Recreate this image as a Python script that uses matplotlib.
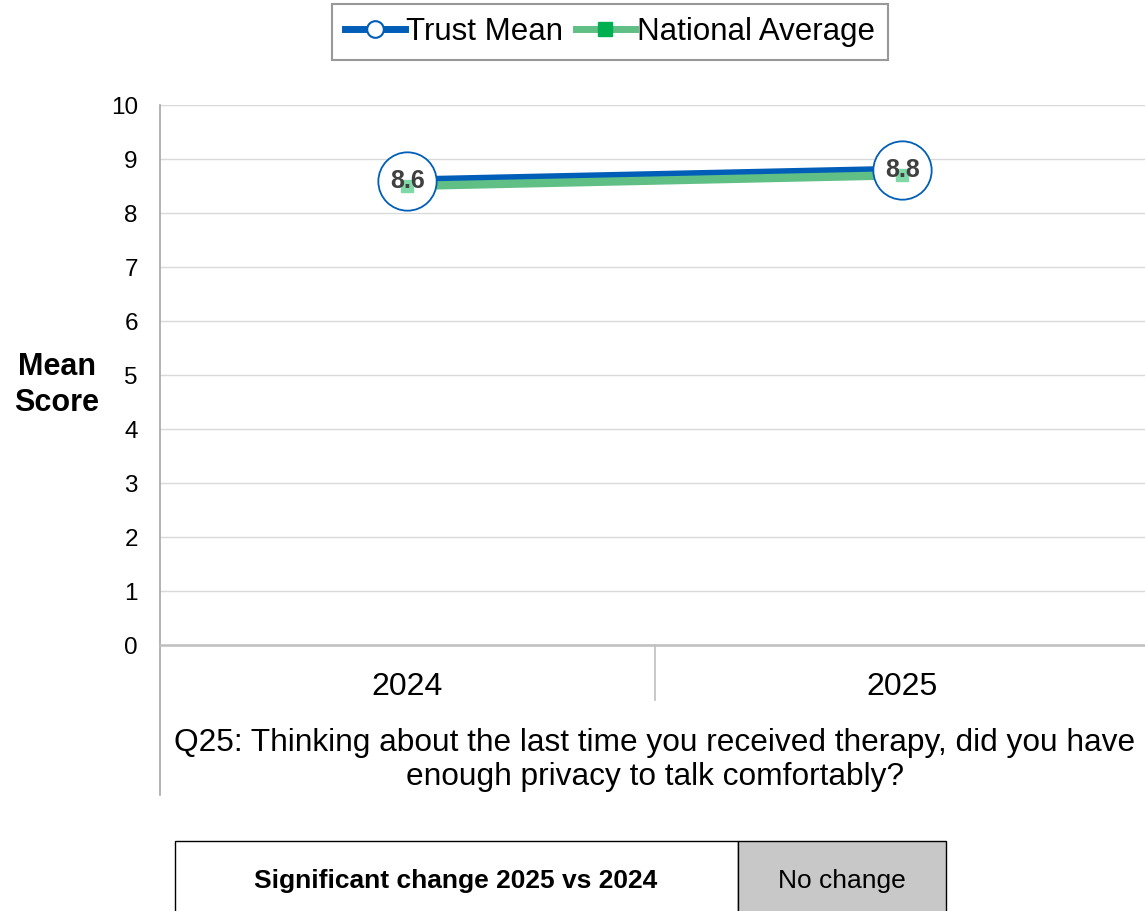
import matplotlib
matplotlib.use("Agg")
import matplotlib.pyplot as plt
from matplotlib.lines import Line2D
from matplotlib.patches import Rectangle

plt.rcParams['font.family'] = ['Liberation Sans', 'DejaVu Sans']

# Data
years = ["2024", "2025"]
trust_mean = [8.6, 8.8]
national_avg = [8.5, 8.7]
y_ticks = list(range(0, 11))
question = ("Q25: Thinking about the last time you received therapy, did you have\n"
            "enough privacy to talk comfortably?")
change_label = "Significant change 2025 vs 2024"
change_result = "No change"

BLUE = "#005EB8"
GREEN_LINE = "#5FBF85"
GREEN_MARK = "#00B050"
GREEN_SQ = "#80D8A8"
GRID = "#D9D9D9"
AXIS = "#A6A6A6"

W, H = 1145, 911
fig = plt.figure(figsize=(W / 100, H / 100), dpi=100)

def fx(px):
    return px / W

def fy(py):
    return 1 - py / H

ax = fig.add_axes([fx(160), fy(645), fx(1150) - fx(160), fy(105) - fy(645)])
x = list(range(len(years)))
ax.set_xlim(-0.5, len(years) - 0.5)
ax.set_ylim(0, 10)

# Grid and axes styling
ax.set_yticks(y_ticks)
ax.set_yticklabels([str(v) for v in y_ticks], fontsize=17.5)
ax.tick_params(axis='y', length=0, pad=16)
ax.set_xticks([])
ax.grid(axis='y', color=GRID, linewidth=1)
ax.set_axisbelow(True)
for s in ['top', 'right']:
    ax.spines[s].set_visible(False)
ax.spines['left'].set_color(AXIS)
ax.spines['left'].set_linewidth(1.2)
ax.spines['bottom'].set_color("#BFBFBF")
ax.spines['bottom'].set_linewidth(1.8)

# Category labels and separators below the axis
for i, yr in enumerate(years):
    ax.text(i, -0.78, yr, ha='center', va='center', fontsize=23,
            transform=ax.transData, clip_on=False)
trans = ax.get_xaxis_transform()
ax.plot([0.5, 0.5], [0, -55 / 540], color="#BFBFBF", lw=1.2, transform=trans, clip_on=False)
ax.plot([-0.5, -0.5], [0, -150 / 540], color=AXIS, lw=1.2, transform=trans, clip_on=False)

fig.text(fx(655), fy(760), question, ha='center', va='center',
         fontsize=22.8, linespacing=1.2)

# Series
ax.plot(x, trust_mean, color=BLUE, lw=6, solid_capstyle='butt', zorder=3)
ax.plot(x, national_avg, color=GREEN_LINE, lw=6, solid_capstyle='butt', zorder=3)
ax.plot(x, trust_mean, linestyle='none', marker='o', markersize=42,
        markerfacecolor='white', markeredgecolor=BLUE, markeredgewidth=1.3, zorder=4)
ax.plot(x, national_avg, linestyle='none', marker='s', markersize=9,
        markerfacecolor=GREEN_SQ, markeredgecolor=GREEN_SQ, zorder=5)
for xi, v in zip(x, trust_mean):
    ax.text(xi, v, f"{v:.1f}", ha='center', va='center', fontsize=18,
            fontweight='bold', color='#404040', zorder=6)

fig.text(fx(57), fy(385), "Mean\nScore", ha='center', va='center', fontsize=22,
         fontweight='bold', linespacing=1.25)

# Legend
handles = [
    Line2D([], [], color=BLUE, lw=5, marker='o', markersize=12,
           markerfacecolor='white', markeredgecolor=BLUE, markeredgewidth=1.5),
    Line2D([], [], color=GREEN_LINE, lw=5, marker='s', markersize=10,
           markerfacecolor=GREEN_MARK, markeredgecolor=GREEN_MARK),
]
leg = fig.legend(handles, ["Trust Mean", "National Average"], loc='center',
                 bbox_to_anchor=(fx(610), fy(32)), ncol=2, fontsize=22.5,
                 frameon=True, fancybox=False, edgecolor='#808080',
                 handlelength=1.9, handletextpad=0.05, columnspacing=0.4,
                 borderpad=0.42, borderaxespad=0)
leg.get_frame().set_linewidth(1.5)

# Change summary table
fig.patches.append(Rectangle((fx(175), fy(915)), fx(738) - fx(175), fy(841) - fy(915),
                             transform=fig.transFigure, facecolor='white',
                             edgecolor='black', lw=1.0))
fig.patches.append(Rectangle((fx(738), fy(915)), fx(946) - fx(738), fy(841) - fy(915),
                             transform=fig.transFigure, facecolor='#C8C8C8',
                             edgecolor='black', lw=1.0))
fig.text(fx(456), fy(881), change_label, ha='center', va='center', fontsize=19,
         fontweight='bold')
fig.text(fx(842), fy(881), change_result, ha='center', va='center', fontsize=19)

fig.savefig("out.png", dpi=100)
